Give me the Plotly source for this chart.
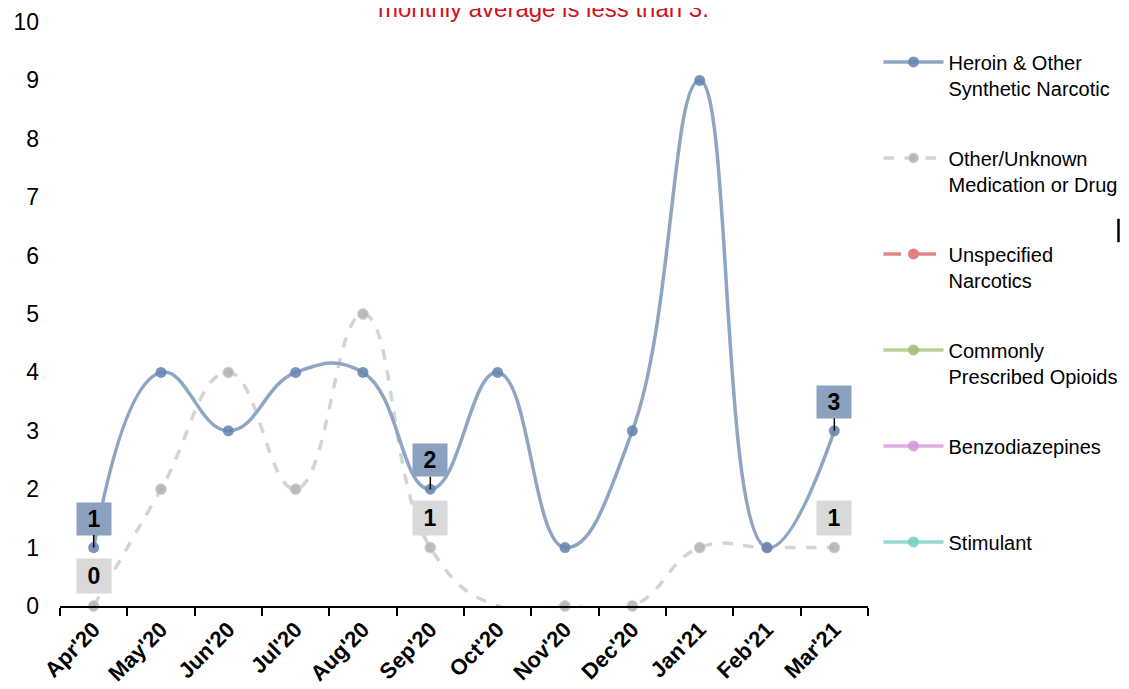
import plotly.graph_objects as go

months = ["Apr'20", "May'20", "Jun'20", "Jul'20", "Aug'20", "Sep'20",
          "Oct'20", "Nov'20", "Dec'20", "Jan'21", "Feb'21", "Mar'21"]
heroin = [1, 4, 3, 4, 4, 2, 4, 1, 3, 9, 1, 3]
other = [0, 2, 4, 2, 5, 1, 0, 0, 0, 1, 1, 1]
unspecified = [None] * 12
commonly = [None] * 12
benzo = [None] * 12
stimulant = [None] * 12

heroin_labels = {"Apr'20": 1, "Sep'20": 2, "Mar'21": 3}
other_labels = {"Apr'20": 0, "Sep'20": 1, "Mar'21": 1}

title_text = "monthly average is less than 3."

FONT = "Liberation Sans, Arial, sans-serif"

# marker sizes (Oct'20 marker of the Other series is not shown in the original)
other_sizes = [11, 11, 11, 11, 11, 11, 0, 11, 11, 11, 11, 11]

fig = go.Figure()

series = [
    ("Other/Unknown<br>Medication or Drug", other, "#d4d4d4", "#b0b0b0", "dash", 2, other_sizes),
    ("Unspecified<br>Narcotics", unspecified, "#e08585", "#e06a6a", "longdash", 3, 11),
    ("Commonly<br>Prescribed Opioids", commonly, "#b8cf95", "#9fbd72", "solid", 4, 11),
    ("Benzodiazepines<br> ", benzo, "#deaee3", "#d494da", "solid", 5, 11),
    ("Stimulant<br> ", stimulant, "#92dad2", "#6fcfc4", "solid", 6, 11),
    ("Heroin & Other<br>Synthetic Narcotic", heroin, "#8ea5c4", "#6383b0", "solid", 1, 11),
]
for name, vals, lc, mc, dash, rank, sz in series:
    fig.add_trace(go.Scatter(
        x=months, y=vals, name=name, mode="lines+markers",
        line=dict(color=lc, width=3.5, dash=dash, shape="spline", smoothing=1.3),
        marker=dict(color=mc, size=sz, opacity=0.85),
        cliponaxis=False,
        legendgroup=str(rank), legendrank=rank,
    ))

annotations = []
for m, v in heroin_labels.items():
    annotations.append(dict(
        x=m, y=v, xref="x", yref="y", text="<b>%d</b>" % v,
        showarrow=True, arrowhead=0, arrowwidth=1.5, arrowcolor="black",
        ax=0, ay=-29, standoff=0, bgcolor="#8ba1bf", width=32, height=30,
        font=dict(family=FONT, size=23, color="black"),
    ))
for m, v in other_labels.items():
    annotations.append(dict(
        x=m, y=v, xref="x", yref="y", text="<b>%d</b>" % v,
        showarrow=False, yshift=30, bgcolor="#d9d9d9", width=32, height=32,
        font=dict(family=FONT, size=23, color="black"),
    ))
annotations.append(dict(
    x=0.598, y=1.0, xref="paper", yref="paper", yanchor="middle", yshift=14,
    text=title_text, showarrow=False,
    font=dict(family=FONT, size=24, color="#d0121b"),
))

fig.update_layout(
    width=1129, height=689,
    margin=dict(l=52, r=269, t=14, b=91, autoexpand=False),
    paper_bgcolor="white", plot_bgcolor="white",
    font=dict(family=FONT, color="black"),
    showlegend=True,
    legend=dict(
        x=1.013, y=0.965, xanchor="left", yanchor="top",
        font=dict(family=FONT, size=20, color="black"),
        valign="top", tracegroupgap=41, itemwidth=60,
        bgcolor="rgba(0,0,0,0)",
    ),
    annotations=annotations,
    shapes=[dict(type="line", xref="paper", yref="paper",
                 x0=1.31, x1=1.31, y0=0.623, y1=0.663,
                 line=dict(color="black", width=2.5))],
)
fig.update_xaxes(
    type="category", categoryorder="array", categoryarray=months,
    range=[-0.5, 11.5], tickson="boundaries", ticks="outside",
    ticklen=8, tickwidth=1.5, tickcolor="black",
    showline=True, linecolor="black", linewidth=2,
    showgrid=False, zeroline=False, tickangle=-45, automargin=False,
    tickfont=dict(family=FONT, size=22, color="black", weight="bold"),
)
fig.update_yaxes(
    range=[0, 10], dtick=1, showgrid=False, zeroline=False,
    showline=False, ticks="", ticklabelstandoff=20, automargin=False,
    tickfont=dict(family=FONT, size=23, color="black"),
)

fig.write_html("out.html")
